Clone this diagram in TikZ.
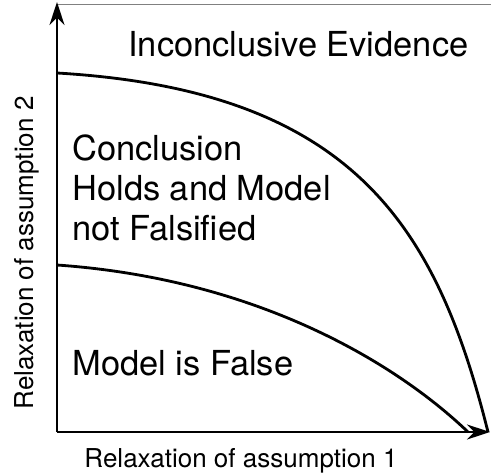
\documentclass[tikz,border=0pt]{standalone}
\usepackage{fontspec}
\setmainfont{TeX Gyre Heros}
\usetikzlibrary{arrows.meta}
\tikzset{
  axis/.style={line width=1.1pt,-{Stealth[length=4.6mm,width=3mm]}},
  region/.style={line width=1.6pt},
  big/.style={font=\fontsize{19.6}{22.7}\selectfont,inner sep=0pt},
  small/.style={font=\fontsize{14.8}{17}\selectfont,inner sep=0pt},
}
\begin{document}
\begin{tikzpicture}
\useasboundingbox (0,0) rectangle (9.82,9.46);
\coordinate (o) at (1.14,0.82);
\coordinate (ytop) at (1.14,9.42);
\coordinate (xend) at (9.80,0.82);
\draw[gray,line width=.5pt] (1.14,9.38) -- (9.82,9.38);
\draw[axis] (o) -- (ytop);
\draw[axis] (o) -- (xend);

\draw[region] (1.14,8.00) .. controls (7.1,7.65) and (8.74,4.89) .. (9.76,0.82);
\draw[region] (1.14,4.16) .. controls (5.14,3.88) and (7.92,2.20) .. (9.36,0.82);

\node[big,anchor=base west] (incon) at (2.56,8.34) {Inconclusive Evidence};
\node[big,anchor=base west,align=left] (holds) at (1.44,4.66) {Conclusion\\Holds and Model\\not Falsified};
\node[big,anchor=base west] (false) at (1.44,1.96) {Model is False};

\node[small,anchor=base] (xlab) at (4.82,0.12) {Relaxation of assumption 1};
\node[small,anchor=base,rotate=90] (ylab) at (0.66,4.40) {Relaxation of assumption 2};
\end{tikzpicture}
\end{document}
